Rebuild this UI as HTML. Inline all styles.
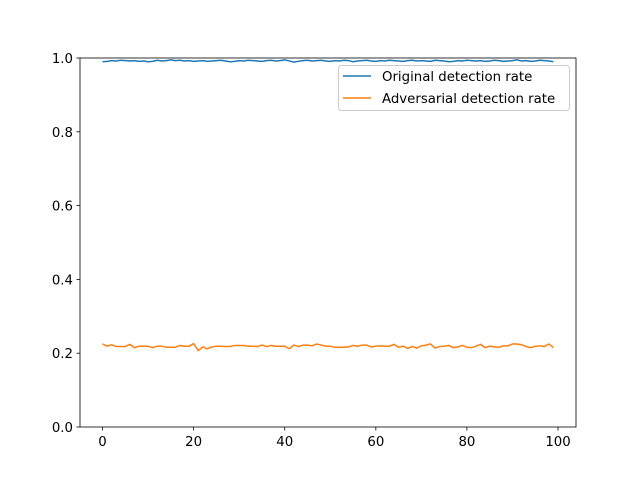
<!DOCTYPE html>
<html><head><meta charset="utf-8"><style>
body{margin:0;background:#fff}
svg{display:block;font-family:"DejaVu Sans","Liberation Sans",sans-serif}
</style></head><body>
<svg id="chart" width="640" height="480"></svg>
<script>
const original = [0.990,0.991,0.993,0.992,0.994,0.993,0.992,0.993,0.991,0.992,0.990,0.991,0.994,0.992,0.993,0.995,0.993,0.994,0.992,0.993,0.991,0.992,0.993,0.991,0.992,0.993,0.994,0.992,0.990,0.991,0.993,0.992,0.994,0.993,0.992,0.991,0.993,0.994,0.992,0.993,0.995,0.992,0.989,0.991,0.993,0.994,0.992,0.993,0.994,0.992,0.991,0.993,0.992,0.994,0.993,0.990,0.992,0.993,0.994,0.992,0.991,0.993,0.992,0.994,0.993,0.992,0.991,0.993,0.994,0.992,0.993,0.992,0.991,0.994,0.993,0.992,0.990,0.991,0.993,0.992,0.994,0.993,0.992,0.993,0.991,0.992,0.994,0.993,0.991,0.992,0.993,0.995,0.992,0.993,0.991,0.992,0.994,0.993,0.992,0.990];
const adversarial = [0.225,0.219,0.223,0.218,0.218,0.218,0.224,0.215,0.219,0.219,0.219,0.215,0.219,0.219,0.216,0.216,0.216,0.221,0.219,0.219,0.226,0.207,0.217,0.212,0.217,0.219,0.219,0.218,0.218,0.221,0.221,0.221,0.219,0.219,0.218,0.222,0.218,0.221,0.219,0.219,0.219,0.212,0.222,0.218,0.222,0.222,0.220,0.225,0.222,0.219,0.219,0.216,0.216,0.216,0.217,0.221,0.219,0.222,0.222,0.217,0.219,0.220,0.219,0.219,0.224,0.216,0.219,0.213,0.218,0.214,0.220,0.222,0.225,0.214,0.218,0.219,0.221,0.215,0.217,0.221,0.216,0.215,0.219,0.224,0.215,0.219,0.217,0.216,0.220,0.220,0.225,0.225,0.223,0.218,0.215,0.219,0.220,0.218,0.225,0.215];
const xTicks = [0,20,40,60,80,100];
const yTicks = [0.0,0.2,0.4,0.6,0.8,1.0];
const L=80,R=576,T=58,B=427,xmin=-4.95,xmax=103.95;
const sx=v=>L+(v-xmin)/(xmax-xmin)*(R-L);
const sy=v=>B-v*(B-T);
const NS="http://www.w3.org/2000/svg";
const svg=document.getElementById('chart');
function mk(tag,attrs,parent){const e=document.createElementNS(NS,tag);for(const k in attrs)e.setAttribute(k,attrs[k]);(parent||svg).appendChild(e);return e;}
xTicks.forEach(t=>{
  const g=mk('g',{});
  
  
  mk('line',{x1:sx(t),x2:sx(t),y1:B,y2:B+3.5,stroke:'#000','stroke-width':0.8},g);
  const tx=mk('text',{x:sx(t),y:B+19,'text-anchor':'middle','font-size':13.3},g);tx.textContent=t;
});
yTicks.forEach(t=>{
  const g=mk('g',{});
  
  
  mk('line',{x1:L-3.5,x2:L,y1:sy(t),y2:sy(t),stroke:'#000','stroke-width':0.8},g);
  const tx=mk('text',{x:L-7,y:sy(t)+5,'text-anchor':'end','font-size':13.3},g);tx.textContent=t.toFixed(1);
});
function line(data,color,name){
  const p=mk('polyline',{points:data.map((v,i)=>sx(i)+','+sy(v)).join(' '),fill:'none',stroke:color,'stroke-width':1.5});
  
  
}
line(original,'#1f77b4','original-detection-line');
line(adversarial,'#ff7f0e','adversarial-detection-line');
const frame=mk('rect',{x:L,y:T,width:R-L,height:B-T,fill:'none',stroke:'#000','stroke-width':0.8});


const lg=mk('g',{});


mk('rect',{x:338.5,y:65.5,width:231,height:45,rx:3,fill:'#fff','fill-opacity':0.8,stroke:'#ccc'},lg);
[['Original detection rate','#1f77b4',76],['Adversarial detection rate','#ff7f0e',98]].forEach(([lab,c,y],i)=>{
  const e=mk('g',{},lg);
  
  
  mk('line',{x1:343,x2:371,y1:y,y2:y,stroke:c,'stroke-width':1.5},e);
  const t=mk('text',{x:382,y:y+5,'font-size':13.3},e);t.textContent=lab;
});
</script>
</body></html>
